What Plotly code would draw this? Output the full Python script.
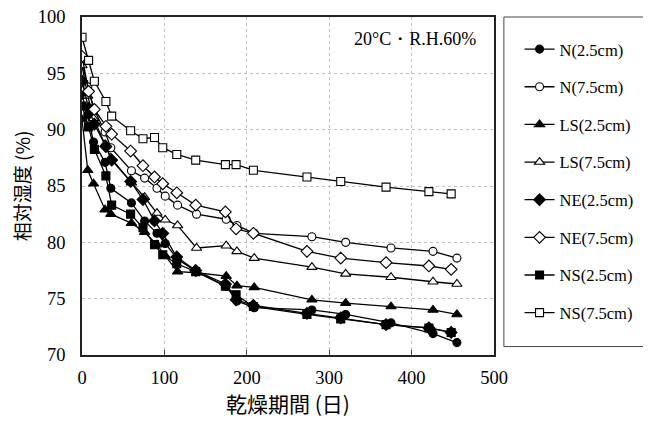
import plotly.graph_objects as go

# measurement days (two specimen sets)
days_a = [0, 7, 14, 28, 35, 60, 76, 91, 101, 116, 139, 175, 188, 209, 279, 320, 375, 426, 455]
days_b = [0, 8, 15, 29, 36, 59, 74, 88, 98, 115, 138, 174, 187, 208, 273, 314, 369, 421, 448]

n_25 = [93.05, 91.3, 88.9, 87.1, 84.8, 83.5, 81.9, 80.8, 79.9, 78.5, 77.4, 76.1, 74.8, 74.2, 74.0, 73.6, 72.85, 71.9, 71.1]
n_75 = [95.9, 93.8, 91.9, 89.8, 88.4, 86.35, 85.7, 84.8, 84.1, 83.3, 82.5, 82.05, 81.5, 80.8, 80.5, 80.0, 79.5, 79.2, 78.6]
ls_25 = [90.9, 86.4, 85.2, 82.9, 82.5, 81.7, 80.9, 79.8, 78.8, 77.4, 77.3, 77.0, 76.15, 76.0, 74.9, 74.6, 74.3, 74.0, 73.6]
ls_75 = [95.7, 93.0, 91.0, 88.7, 87.5, 85.3, 84.0, 82.6, 82.0, 81.5, 79.5, 79.7, 79.2, 78.6, 77.8, 77.2, 76.9, 76.5, 76.3]
ne_25 = [94.3, 91.9, 90.5, 88.5, 87.3, 85.4, 83.8, 81.9, 80.8, 78.7, 77.5, 76.3, 74.9, 74.4, 73.7, 73.3, 72.7, 72.4, 72.0]
ne_75 = [96.5, 93.4, 91.8, 90.3, 89.6, 88.1, 86.8, 85.8, 85.2, 84.4, 83.3, 82.7, 81.2, 80.8, 79.2, 78.6, 78.2, 77.9, 77.6]
ns_25 = [92.1, 90.25, 88.25, 85.9, 83.3, 82.5, 81.3, 79.8, 78.9, 78.1, 77.4, 76.1, 75.35, 74.3, 73.6, 73.2, 72.7, 72.4, 72.0]
ns_75 = [98.2, 96.15, 94.3, 92.5, 91.2, 89.9, 89.2, 89.3, 88.4, 87.8, 87.3, 86.9, 86.9, 86.4, 85.8, 85.4, 84.9, 84.5, 84.3]

series = [
    ("N(2.5cm)", days_a, n_25, "circle", "black"),
    ("N(7.5cm)", days_a, n_75, "circle", "white"),
    ("LS(2.5cm)", days_a, ls_25, "triangle-up", "black"),
    ("LS(7.5cm)", days_a, ls_75, "triangle-up", "white"),
    ("NE(2.5cm)", days_b, ne_25, "diamond", "black"),
    ("NE(7.5cm)", days_b, ne_75, "diamond", "white"),
    ("NS(2.5cm)", days_b, ns_25, "square", "black"),
    ("NS(7.5cm)", days_b, ns_75, "square", "white"),
]

x_ticks = [0, 100, 200, 300, 400, 500]
y_ticks = [70, 75, 80, 85, 90, 95, 100]

fig = go.Figure()
for i, (name, xs, ys, sym, fill) in enumerate(series):
    size = 9 if sym in ("diamond", "triangle-up") else 8
    fig.add_trace(go.Scatter(
        x=xs, y=ys, name=name, mode="lines+markers",
        legendgroup=f"g{i}",
        line=dict(color="black", width=1.3),
        marker=dict(symbol=sym, size=size, color=fill,
                    line=dict(color="black", width=1.1)),
    ))

serif = "Liberation Serif, Times New Roman, serif"
jp = "Noto Sans CJK JP, sans-serif"

# page body has an 8px margin, so the figure is drawn 8px smaller and offset
fig.update_layout(
    width=643, height=416,
    margin=dict(l=74, r=157, t=8.5, b=68.5, autoexpand=False),
    paper_bgcolor="white", plot_bgcolor="white",
    showlegend=True,
    legend=dict(
        x=1.062, y=0.956, xanchor="left", yanchor="top",
        borderwidth=0, bgcolor="rgba(0,0,0,0)",
        font=dict(family=serif, size=16.5, color="black"),
        tracegroupgap=13.2, itemwidth=30,
    ),
    shapes=[dict(
        type="rect", xref="paper", yref="paper",
        x0=1.024, x1=1.371, y0=0.025, y1=1,
        line=dict(color="#444", width=1), fillcolor="rgba(0,0,0,0)", layer="below",
    )],
    xaxis=dict(
        range=[0, 500], tickvals=x_ticks, ticktext=[str(v) for v in x_ticks],
        showgrid=True, gridcolor="#c0c0c0", griddash="dot", gridwidth=1,
        showline=True, linecolor="#222", linewidth=1.5, mirror=True,
        ticks="inside", ticklen=5, tickcolor="#444",
        zeroline=False, automargin=False, ticklabelstandoff=5,
        ticklabeloverflow="allow",
        tickfont=dict(family=serif, size=18.5, color="black"),
        title=dict(text="乾燥期間 (日)", font=dict(family=jp, size=21, color="black"), standoff=9),
    ),
    yaxis=dict(
        range=[70, 100], tickvals=y_ticks, ticktext=[str(v) for v in y_ticks],
        showgrid=True, gridcolor="#c0c0c0", griddash="dot", gridwidth=1,
        showline=True, linecolor="#222", linewidth=1.5, mirror=True,
        ticks="", zeroline=False, automargin=False, ticklabelstandoff=11,
        ticklabeloverflow="allow",
        tickfont=dict(family=serif, size=18.5, color="black"),
        title=dict(text="相対湿度 (%)", font=dict(family=jp, size=19, color="black"), standoff=5),
    ),
    annotations=[dict(
        text="20°C・R.H.60%", xref="paper", yref="paper", x=0.962, y=0.97,
        xanchor="right", yanchor="top", showarrow=False,
        font=dict(family=serif, size=18, color="black"),
    )],
)

fig.write_html("out.html")
